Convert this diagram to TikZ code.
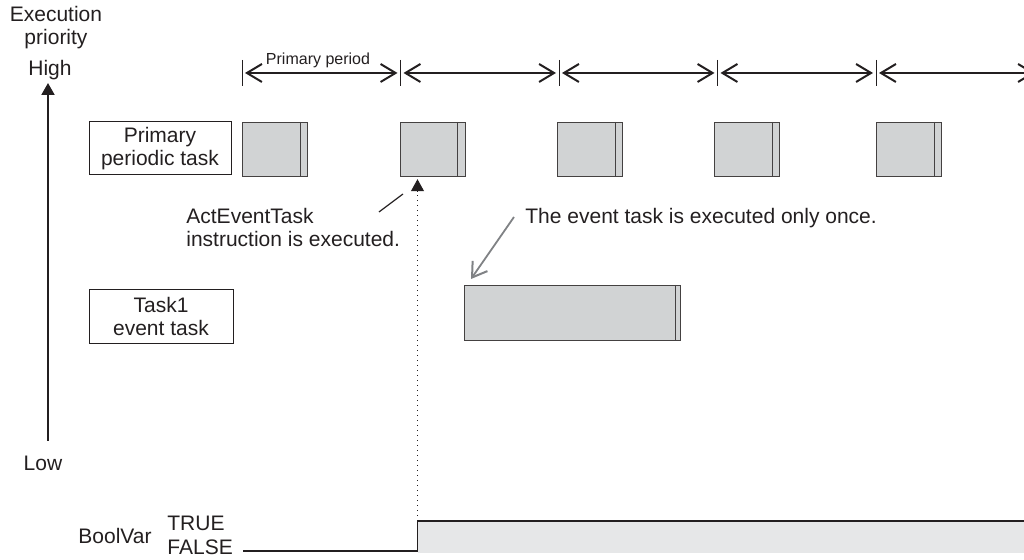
\documentclass[tikz,border=0pt]{standalone}
\usepackage{fontspec}
\setmainfont{Liberation Sans}
\usetikzlibrary{arrows.meta}
\definecolor{blockgray}{HTML}{D1D3D4}
\definecolor{boolgray}{HTML}{E6E7E8}
\definecolor{ink}{HTML}{231F20}
\definecolor{pointergray}{HTML}{808285}
\begin{document}
\begin{tikzpicture}[x=0.5pt,y=-0.5pt,
  font=\fontsize{10.5}{11.5}\selectfont,
  labelbox/.style={draw=ink, line width=0.5pt, align=center, inner sep=0pt, text=ink},
  block/.style={draw=ink!85, fill=blockgray, line width=0.6pt, anchor=north west, inner sep=0pt, minimum width=32.5pt, minimum height=27pt},
  barb/.tip={Straight Barb[length=7.5pt,width=9pt,line width=1pt]},
  period/.style={draw=ink, line width=0.8pt, barb-barb},
  tickline/.style={draw=ink, line width=0.5pt},
  txt/.style={inner sep=0pt, text=ink},
]
\useasboundingbox (0,0) rectangle (1024,560);
\clip (0,0) rectangle (1024,560);

% priority axis
\node[txt, align=center] (exec) at (56,28) {Execution\\priority};
\node[txt, anchor=base] (high) at (50,76) {High};
\node[txt, anchor=base] (low) at (43,471) {Low};
\coordinate (axbot) at (48,441);
\coordinate (axtop) at (48,83);
\draw[ink, line width=1pt, -{Triangle[length=6pt,width=6.5pt]}] (axbot) -- (axtop);

% labels of tasks
\node[labelbox, minimum width=71pt, minimum height=26.5pt] (ppt) at (160,148.5) {Primary\\periodic task};
\node[labelbox, minimum width=72pt, minimum height=27pt] (ev) at (161,317) {Task1\\event task};

% period ticks
\foreach \i/\x in {1/242,2/400.5,3/559,4/717.5,5/876} {
  \coordinate (t\i) at (\x,73);
  \draw[tickline] (\x,60) -- (\x,86);
}
\coordinate (t6) at (1035,73);
\draw[period] ([xshift=1.5pt]t1) -- ([xshift=-1.5pt]t2);
\draw[period] ([xshift=1.5pt]t2) -- ([xshift=-1.5pt]t3);
\draw[period] ([xshift=1.5pt]t3) -- ([xshift=-1.5pt]t4);
\draw[period] ([xshift=1.5pt]t4) -- ([xshift=-1.5pt]t5);
\draw[period] ([xshift=1.5pt]t5) -- (t6);
\node[txt, anchor=base, font=\fontsize{8}{9}\selectfont] (pp) at (318,65) {Primary period};

% primary periodic task executions
\foreach \i/\x in {1/242,2/399.5,3/557,4/714,5/876} {
  \node[block] (b\i) at (\x,122) {};
  \draw[ink!85, line width=0.6pt] ([xshift=-4pt]b\i.north east) -- ([xshift=-4pt]b\i.south east);
}

% event task execution
\node[block, minimum width=108pt, minimum height=27.5pt] (e1) at (464,285) {};
\draw[ink!85, line width=0.6pt] ([xshift=-2.8pt]e1.north east) -- ([xshift=-2.8pt]e1.south east);

% annotations
\node[txt, anchor=base west, align=left] (act) at (186,247) {ActEventTask\\instruction is executed.};
\coordinate (actA) at (379,212);
\coordinate (actB) at (403,194);
\draw[ink, line width=0.6pt] (actA) -- (actB);

\node[txt, anchor=base west] (once) at (525,224) {The event task is executed only once.};
\coordinate (onceA) at (514,217);
\draw[pointergray, line width=0.9pt, -{Straight Barb[length=7pt,width=9pt,line width=1pt]}] (onceA) -- ([shift={(7,-6)}]e1.north west);

% BoolVar
\node[txt, anchor=base west] (bv) at (78,544) {BoolVar};
\node[txt, anchor=base west, align=left, font=\fontsize{10.5}{12}\selectfont] (tf) at (167,555) {TRUE\\FALSE};
\coordinate (f0) at (243,551);
\coordinate (r0) at (417.5,551);
\coordinate (r1) at (417.5,521);
\coordinate (tend) at (1030,521);
\fill[boolgray] (r1) rectangle (1030,553);
\draw[ink, line width=0.8pt] (f0) -- (r0) -- (r1) -- (tend);
\draw[ink, line width=0.5pt, dotted, shorten >=1pt, -{Triangle[length=6pt,width=6.5pt,sep=0pt]}] (r1) -- (b2.south -| r1);
\end{tikzpicture}
\end{document}
